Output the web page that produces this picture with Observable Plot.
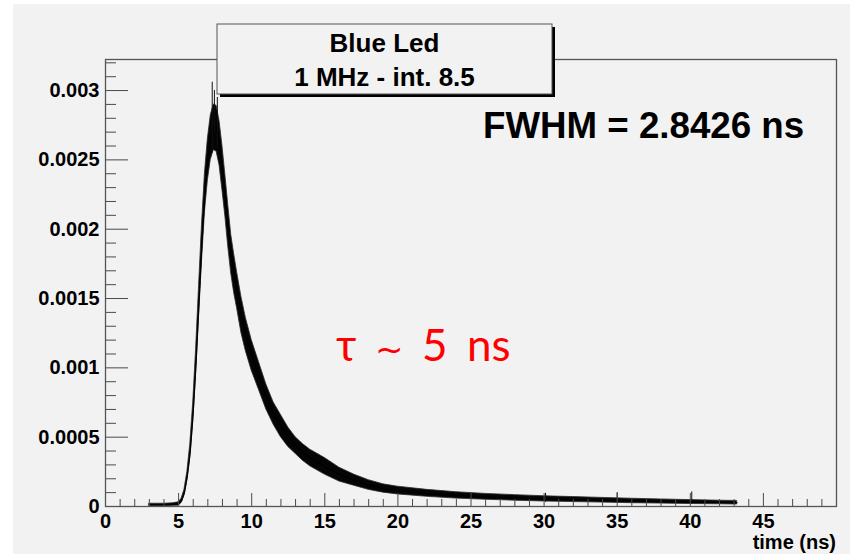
<!DOCTYPE html>
<html>
<head>
<meta charset="utf-8">
<script src="https://cdn.jsdelivr.net/npm/d3@7"></script>
<script src="https://cdn.jsdelivr.net/npm/@observablehq/plot@0.6"></script>
<style>
  html, body { margin: 0; padding: 0; background: #ffffff; }
  #chart { position: relative; width: 850px; height: 554px; }
</style>
</head>
<body>
<div id="chart"></div>
<script>
// ---- data (time in ns, counts normalised) ----
const timeNs = [3.0, 4.0, 4.6, 5.0, 5.2, 5.4, 5.6, 5.8, 6.0, 6.2, 6.4, 6.6, 6.8, 7.0, 7.2, 7.4, 7.6, 7.8, 8.0, 8.2, 8.4, 8.6, 8.8, 9.0, 9.3, 9.6, 10.0, 10.5, 11.0, 11.5, 12.0, 12.5, 13.0, 13.5, 14.0, 15.0, 16.0, 17.0, 18.0, 19.0, 20.0, 22.0, 24.0, 26.0, 28.0, 30.0, 32.0, 34.0, 36.0, 38.0, 40.0, 42.0, 43.2];
const centre = [0.000012, 0.000012, 0.000014, 0.000018, 0.00004, 0.0001, 0.00022, 0.0004, 0.00068, 0.00105, 0.00148, 0.0019, 0.00226, 0.0025, 0.00266, 0.00274, 0.00273, 0.00262, 0.00244, 0.00224, 0.00202, 0.00182, 0.00168, 0.00156, 0.00138, 0.00124, 0.00109, 0.00094, 0.00079, 0.00067, 0.00058, 0.0005, 0.00044, 0.00039, 0.00035, 0.00029, 0.00023, 0.00019, 0.000155, 0.00013, 0.000115, 0.000095, 0.00008, 0.00007, 0.000062, 0.000055, 0.00005, 0.000045, 0.00004, 0.000036, 0.000032, 0.000029, 0.000027];
const bandLow = [0.000004, 0.000004, 0.000005, 0.000006, 0.000025, 0.00008, 0.00019, 0.00035, 0.00061, 0.00096, 0.00137, 0.00177, 0.00212, 0.00235, 0.0025, 0.00257, 0.00256, 0.00246, 0.00228, 0.00209, 0.00187, 0.00168, 0.00154, 0.00143, 0.00125, 0.00112, 0.00098, 0.00084, 0.0007, 0.00059, 0.0005, 0.00043, 0.00038, 0.00033, 0.00029, 0.00023, 0.00018, 0.00015, 0.00012, 0.0001, 0.000087, 0.00007, 0.000057, 0.000049, 0.000042, 0.000036, 0.000032, 0.000028, 0.000024, 0.000021, 0.000018, 0.000016, 0.000014];
const bandHigh = [0.00002, 0.00002, 0.000023, 0.00003, 0.000055, 0.00012, 0.00025, 0.00045, 0.00075, 0.00114, 0.00159, 0.00203, 0.0024, 0.00265, 0.00282, 0.0029, 0.00289, 0.00278, 0.0026, 0.00239, 0.00217, 0.00196, 0.00182, 0.00169, 0.00151, 0.00136, 0.0012, 0.00104, 0.00088, 0.00075, 0.00066, 0.00057, 0.0005, 0.00045, 0.00041, 0.00035, 0.00028, 0.00023, 0.00019, 0.00016, 0.000143, 0.00012, 0.000103, 0.000091, 0.000082, 0.000074, 0.000068, 0.000062, 0.000056, 0.000051, 0.000046, 0.000042, 0.00004];
// isolated spikes visible above the band
const spikeT = [7.3, 7.45, 7.65, 30.1, 35.0, 40.1];
const spikeLow = [0.00255, 0.0027, 0.0026, 0.00003, 0.00003, 0.00003];
const spikeHigh = [0.00306, 0.0030, 0.00295, 0.000095, 0.0001, 0.000105];

// axis ticks
const xMajor = [0, 5, 10, 15, 20, 25, 30, 35, 40, 45];
const xMinor = [1,2,3,4,6,7,8,9,11,12,13,14,16,17,18,19,21,22,23,24,26,27,28,29,31,32,33,34,36,37,38,39,41,42,43,44,46,47,48,49];
const yMajor = [0, 0.0005, 0.001, 0.0015, 0.002, 0.0025, 0.003];
const yTickLabels = ["0", "0.0005", "0.001", "0.0015", "0.002", "0.0025", "0.003"];
const yMinor = [0.0001,0.0002,0.0003,0.0004,0.0006,0.0007,0.0008,0.0009,0.0011,0.0012,0.0013,0.0014,0.0016,0.0017,0.0018,0.0019,0.0021,0.0022,0.0023,0.0024,0.0026,0.0027,0.0028,0.0029,0.0031,0.0032];
const xDomain = [0, 50];
const yDomain = [0, 0.003224];

const titleLines = ["Blue Led", "1 MHz - int. 8.5"];
const fwhmText = "FWHM = 2.8426 ns";
const tauParts = ["τ", "~", "5", "ns"];
const xLabel = "time (ns)";

const data = timeNs.map((t, i) => ({t, v: centre[i], lo: bandLow[i], hi: bandHigh[i]}));
const spikes = spikeT.map((t, i) => ({t, lo: spikeLow[i], hi: spikeHigh[i]}));

const font = "'Liberation Sans', Arial, Helvetica, sans-serif";
const tickColor = "#4a4a4a";

const plot = Plot.plot({
  width: 850,
  height: 554,
  marginLeft: 105,
  marginRight: 14,
  marginTop: 59,
  marginBottom: 48,
  x: {domain: xDomain},
  y: {domain: yDomain},
  style: {background: "transparent", fontFamily: font, fontSize: "20px", fontWeight: "bold", color: "#000", overflow: "visible"},
  marks: [
    Plot.areaY(data, {x: "t", y1: "lo", y2: "hi", fill: "#050505", stroke: "#2a2a2a", strokeWidth: 0.8}),
    Plot.lineY(data, {x: "t", y: "v", stroke: "#000", strokeWidth: 1.2}),
    Plot.ruleX(spikes, {x: "t", y1: "lo", y2: "hi", stroke: "#111", strokeWidth: 1}),
    Plot.axisX(xMinor, {anchor: "bottom", tickSize: -7, tickFormat: () => "", stroke: tickColor, label: null}),
    Plot.axisX(xMajor, {anchor: "bottom", tickSize: -13, tickFormat: () => "", stroke: tickColor, label: null}),
    Plot.axisX(xMajor, {anchor: "bottom", tickSize: 0, tickPadding: 7, tickFormat: d => String(d), fill: "#000", label: null}),
    Plot.axisY(yMinor, {anchor: "left", tickSize: -11, tickFormat: () => "", stroke: tickColor, label: null}),
    Plot.axisY(yMajor, {anchor: "left", tickSize: -23, tickFormat: () => "", stroke: tickColor, label: null}),
    Plot.axisY(yMajor, {anchor: "left", tickSize: 0, tickPadding: 6, tickFormat: d => yTickLabels[yMajor.indexOf(d)], fill: "#000", label: null}),
    Plot.frame({stroke: "#555", strokeWidth: 1.3})
  ]
});

const svg = d3.select(plot);
// ROOT canvas background
svg.insert("rect", ":first-child")
  .attr("x", 13).attr("y", 4).attr("width", 837).attr("height", 550)
  .attr("fill", "#f2f2f2");

// title pave with shadow
const pave = svg.append("g").attr("text-anchor", "middle");
pave.append("rect").attr("x", 220).attr("y", 27).attr("width", 335).attr("height", 70).attr("fill", "#000");
pave.append("rect").attr("x", 217).attr("y", 24).attr("width", 335).attr("height", 70)
  .attr("fill", "#f2f2f2").attr("stroke", "#555").attr("stroke-width", 1);
pave.append("text").attr("x", 384.5).attr("y", 52)
  .style("font", `bold 26px ${font}`).attr("fill", "#000").text(titleLines[0]);
pave.append("text").attr("x", 384.5).attr("y", 86)
  .style("font", `bold 26px ${font}`).attr("fill", "#000").text(titleLines[1]);

svg.append("text").attr("x", 483).attr("y", 138).attr("text-anchor", "start")
  .style("font", `bold 36.7px ${font}`).attr("fill", "#000").text(fwhmText);

const tau = svg.append("text").attr("x", 336).attr("y", 361).attr("text-anchor", "start")
  .style("font", `400 44px Lato, 'Open Sans', sans-serif`).attr("fill", "#ff0000");
tau.append("tspan").text(tauParts[0]);
tau.append("tspan").attr("x", 375).style("font", `400 34px 'DejaVu Sans', sans-serif`).text(tauParts[1]);
tau.append("tspan").attr("x", 422).text(tauParts[2]);
tau.append("tspan").attr("x", 467).text(tauParts[3]);

svg.append("text").attr("x", 836).attr("y", 549).attr("text-anchor", "end")
  .style("font", `bold 20px ${font}`).attr("fill", "#000").text(xLabel);

document.getElementById("chart").appendChild(plot);
</script>
</body>
</html>
